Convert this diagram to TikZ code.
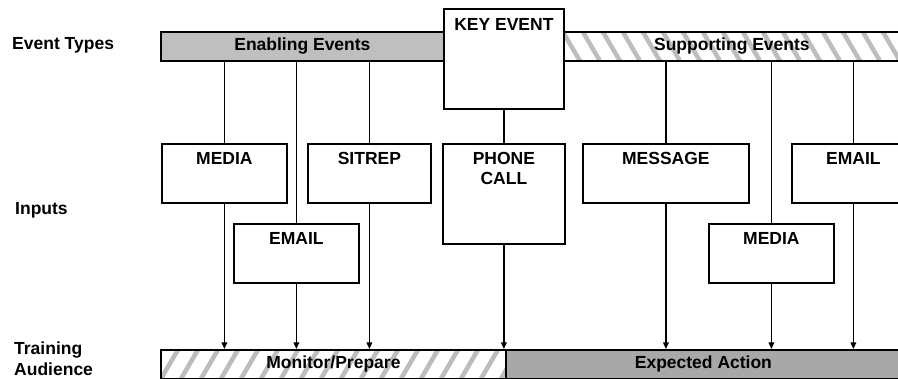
\documentclass[tikz,border=0pt]{standalone}
\usepackage{fontspec}
\setmainfont{Liberation Sans}
\usetikzlibrary{arrows.meta}
\definecolor{barA}{HTML}{BFBFBF}
\definecolor{barB}{HTML}{A8A8A8}
\definecolor{hatchc}{HTML}{BDBDBD}
\begin{document}
\begin{tikzpicture}[x=1pt,y=-1pt,
  lbl/.style={font=\bfseries\fontsize{17.5}{20.5}\selectfont, inner sep=0pt},
  bar/.style={draw, line width=1.8pt, minimum height=29pt, anchor=north west, inner sep=0pt, font=\bfseries\fontsize{17.5}{21}\selectfont},
  ibox/.style={draw, line width=1.8pt, fill=white, anchor=north west, inner sep=0pt},
  link/.style={line width=1.5pt},
  arr/.style={link, -{Triangle[length=6.5pt,width=5.5pt]}},
  hatchdown/.style={path picture={\foreach \i in {-2,...,24}
      \draw[hatchc, line width=4.5pt] ([xshift=\i*20pt]path picture bounding box.north west) -- ++(17,29);}},
  hatchup/.style={path picture={\foreach \i in {-2,...,24}
      \draw[hatchc, line width=4.5pt] ([xshift=\i*20pt]path picture bounding box.south west) -- ++(17,-29);}}
]
\useasboundingbox (0,0) rectangle (898,379);
\clip (0,0) rectangle (898,379);

% row labels
\node[lbl, anchor=base west] (lt1) at (12,50) {Event Types};
\node[lbl, anchor=base west] (lt2) at (15,215) {Inputs};
\node[lbl, anchor=north west, align=left] (lt3) at (14,342) {Training\\Audience};

% event type bars
\node[bar, fill=barA, minimum width=283pt] (enab) at (160,31) {Enabling Events};
\node[bar, fill=white, hatchdown, minimum width=338pt] (supp) at (562,31) {Supporting Events};

% training audience bars
\node[bar, fill=white, hatchup, minimum width=345pt] (mon) at (160,349) {Monitor/Prepare};
\node[bar, fill=barB, minimum width=395pt] (expa) at (505,349) {Expected Action};

% key event
\node[ibox, minimum width=120pt, minimum height=100pt] (key) at (443,8) {};
\node[lbl, anchor=north] (keyt) at ([yshift=-10pt]key.north) {KEY EVENT};

% inputs
\node[ibox, minimum width=125pt, minimum height=59pt] (media1) at (161,143) {};
\node[ibox, minimum width=125pt, minimum height=59pt] (email1) at (233,223) {};
\node[ibox, minimum width=123pt, minimum height=59pt] (sitrep) at (307,143) {};
\node[ibox, minimum width=122pt, minimum height=100pt] (phone) at (442,143) {};
\node[ibox, minimum width=166pt, minimum height=59pt] (message) at (582,143) {};
\node[ibox, minimum width=125pt, minimum height=59pt] (media2) at (708,223) {};
\node[ibox, minimum width=123pt, minimum height=59pt] (email2) at (791,143) {};

\node[lbl, anchor=north] (t1) at ([yshift=-9pt]media1.north) {MEDIA};
\node[lbl, anchor=north] (t2) at ([yshift=-9pt]email1.north) {EMAIL};
\node[lbl, anchor=north] (t3) at ([yshift=-9pt]sitrep.north) {SITREP};
\node[lbl, anchor=north, align=center] (t4) at ([yshift=-9pt]phone.north) {PHONE\\CALL};
\node[lbl, anchor=north] (t5) at ([yshift=-9pt]message.north) {MESSAGE};
\node[lbl, anchor=north] (t6) at ([yshift=-9pt]media2.north) {MEDIA};
\node[lbl, anchor=north] (t7) at ([yshift=-9pt]email2.north) {EMAIL};

% connectors from event types to inputs
\draw[link] (media1.north |- enab.south) -- (media1.north);
\draw[link] (email1.north |- enab.south) -- (email1.north);
\draw[link] (sitrep.north |- enab.south) -- (sitrep.north);
\draw[link] (key.south) -- (phone.north);
\draw[link] (message.north |- supp.south) -- (message.north);
\draw[link] (media2.north |- supp.south) -- (media2.north);
\draw[link] (email2.north |- supp.south) -- (email2.north);

% connectors from inputs to training audience
\draw[arr] (media1.south) -- (media1.south |- mon.north);
\draw[arr] (email1.south) -- (email1.south |- mon.north);
\draw[arr] (sitrep.south) -- (sitrep.south |- mon.north);
\draw[arr] (phone.south) -- (phone.south |- mon.north);
\draw[arr] (message.south) -- (message.south |- expa.north);
\draw[arr] (media2.south) -- (media2.south |- expa.north);
\draw[arr] (email2.south) -- (email2.south |- expa.north);
\end{tikzpicture}
\end{document}
